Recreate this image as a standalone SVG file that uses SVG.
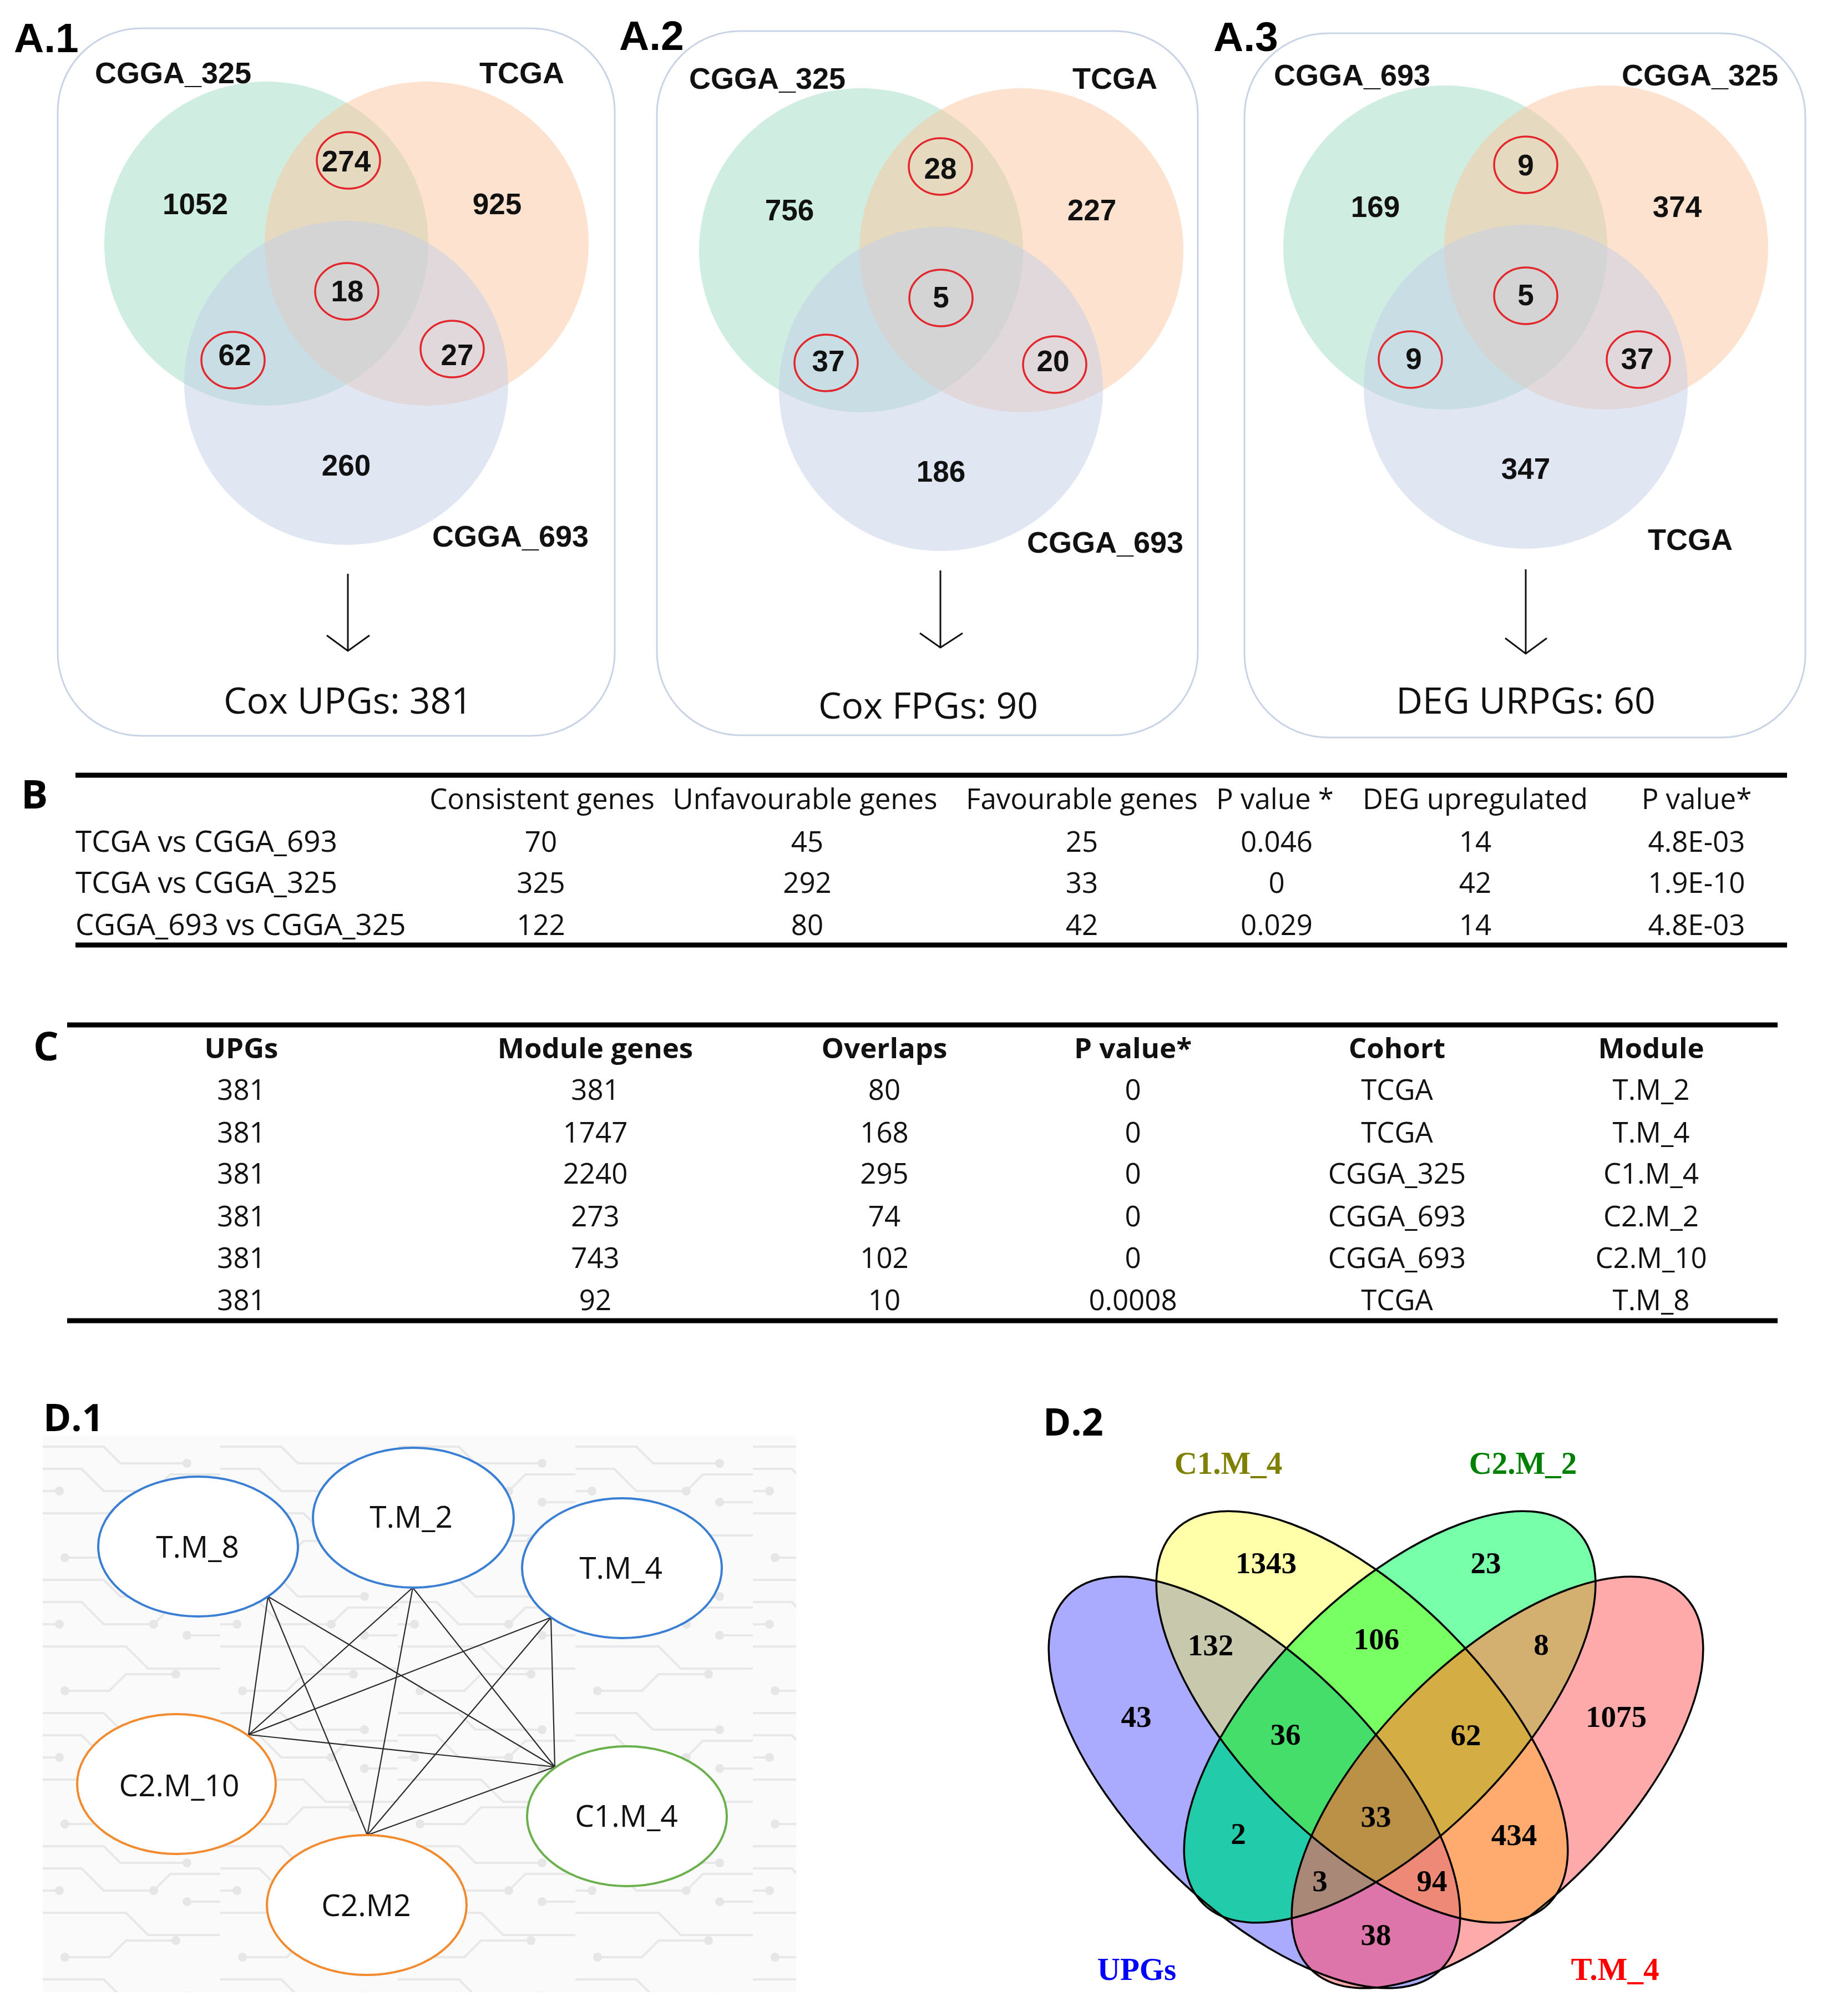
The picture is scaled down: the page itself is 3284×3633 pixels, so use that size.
<svg xmlns="http://www.w3.org/2000/svg" width="3284" height="3633" viewBox="0 0 3284 3633">
<style>
.plab{font-family:"Liberation Sans",Arial,sans-serif;font-weight:700;font-size:75px;fill:#000}
.slab{font-family:"Liberation Sans",Arial,sans-serif;font-weight:700;font-size:54px;fill:#111}
.num{font-family:"Liberation Sans",Arial,sans-serif;font-weight:700;font-size:53px;fill:#111;text-anchor:middle}
.res{font-family:"Open Sans",sans-serif;font-size:66px;fill:#111;text-anchor:middle}
.box{fill:none;stroke:#c9d3e6;stroke-width:3}
.cg{fill:#9fdcc4;fill-opacity:.5}
.co{fill:#fbc89f;fill-opacity:.5}
.cb{fill:#c3cee8;fill-opacity:.5}
.rc{fill:none;stroke:#e3262b;stroke-width:3.5}
.arr{fill:none;stroke:#111;stroke-width:3}
.tb{font-family:"Open Sans",sans-serif;font-size:51px;fill:#111}
.rl{font-size:53px}
.tc{text-anchor:middle}
.th{font-weight:700}
.rule{stroke:#000;stroke-width:9}
.big{font-family:"Open Sans",sans-serif;font-weight:700;font-size:72px;fill:#000}
.dl{font-family:"Open Sans",sans-serif;font-weight:700;font-size:68px;fill:#000}
.node ellipse{fill:#fff;stroke-width:4}
.nt{font-family:"Open Sans",sans-serif;font-size:55px;fill:#111;text-anchor:middle}
.edge line{stroke:#2a2a2a;stroke-width:2.2}
.vn{font-family:"Liberation Serif","Times New Roman",serif;font-weight:700;font-size:55px;fill:#000;text-anchor:middle}
.vl{font-family:"Liberation Serif","Times New Roman",serif;font-weight:700;font-size:57px;text-anchor:middle}
.vo{fill:none;stroke:#000;stroke-width:3.5}
</style>
<defs>
<pattern id="circ" x="77" y="2587" width="320" height="240" patternUnits="userSpaceOnUse">
<rect width="320" height="240" fill="#fafafa"/>
<g fill="none" stroke="#e8e8e8" stroke-width="4">
<path d="M0 20 H110 L140 50 H260"/>
<path d="M0 60 H70 L110 100 H200 L230 70 H320"/>
<path d="M0 140 H150 L190 180 H320"/>
<path d="M40 220 H120 L150 190 H240"/>
<path d="M260 120 H320"/>
<path d="M0 100 H30"/>
</g>
<g fill="#e6e6e6">
<circle cx="260" cy="50" r="8"/><circle cx="200" cy="100" r="8"/><circle cx="240" cy="190" r="8"/><circle cx="40" cy="220" r="8"/><circle cx="260" cy="120" r="8"/><circle cx="30" cy="100" r="8"/>
</g>
</pattern>
<ellipse id="eB" cx="2261" cy="3212" rx="476" ry="220" transform="rotate(45 2261 3212)"/>
<ellipse id="eY" cx="2455" cy="3094" rx="476" ry="220" transform="rotate(45 2455 3094)"/>
<ellipse id="eG" cx="2505" cy="3094" rx="476" ry="220" transform="rotate(-45 2505 3094)"/>
<ellipse id="eP" cx="2699" cy="3212" rx="476" ry="220" transform="rotate(-45 2699 3212)"/>
<clipPath id="cB"><ellipse cx="2261" cy="3212" rx="476" ry="220" transform="rotate(45 2261 3212)"/></clipPath>
<clipPath id="cY"><ellipse cx="2455" cy="3094" rx="476" ry="220" transform="rotate(45 2455 3094)"/></clipPath>
<clipPath id="cG"><ellipse cx="2505" cy="3094" rx="476" ry="220" transform="rotate(-45 2505 3094)"/></clipPath>
<clipPath id="cP"><ellipse cx="2699" cy="3212" rx="476" ry="220" transform="rotate(-45 2699 3212)"/></clipPath>
</defs>
<rect width="3284" height="3633" fill="#fff"/>

<!-- Panel A.1 -->
<g id="panelA1">
<rect class="box" x="104" y="51" width="1004" height="1275" rx="150"/>
<text class="plab" x="25" y="94">A.1</text>
<circle class="cg" cx="480" cy="439" r="292"/>
<circle class="co" cx="769" cy="439" r="292"/>
<circle class="cb" cx="624" cy="690" r="292"/>
<text class="slab" x="171" y="150">CGGA_325</text>
<text class="slab" x="864" y="150">TCGA</text>
<text class="slab" x="779" y="985">CGGA_693</text>
<ellipse class="rc" cx="628" cy="289" rx="57" ry="51"/>
<ellipse class="rc" cx="625" cy="525" rx="57" ry="51"/>
<ellipse class="rc" cx="420" cy="649" rx="57" ry="51"/>
<ellipse class="rc" cx="815" cy="629" rx="57" ry="51"/>
<text class="num" x="352" y="386">1052</text>
<text class="num" x="624" y="309">274</text>
<text class="num" x="896" y="386">925</text>
<text class="num" x="626" y="543">18</text>
<text class="num" x="423" y="658">62</text>
<text class="num" x="824" y="658">27</text>
<text class="num" x="624" y="857">260</text>
<path class="arr" d="M627 1034 V1173 M589 1145 L627 1173 L666 1145"/>
<text class="res" x="627" y="1286">Cox UPGs: 381</text>
</g>

<!-- Panel A.2 -->
<g id="panelA2">
<rect class="box" x="1184" y="56" width="975" height="1269" rx="150"/>
<text class="plab" x="1116" y="90">A.2</text>
<circle class="cg" cx="1552" cy="451" r="292"/>
<circle class="co" cx="1841" cy="451" r="292"/>
<circle class="cb" cx="1696" cy="701" r="292"/>
<text class="slab" x="1242" y="160">CGGA_325</text>
<text class="slab" x="1933" y="160">TCGA</text>
<text class="slab" x="1851" y="996">CGGA_693</text>
<ellipse class="rc" cx="1695" cy="300" rx="57" ry="51"/>
<ellipse class="rc" cx="1696" cy="537" rx="57" ry="51"/>
<ellipse class="rc" cx="1489" cy="654" rx="57" ry="51"/>
<ellipse class="rc" cx="1901" cy="657" rx="57" ry="51"/>
<text class="num" x="1423" y="397">756</text>
<text class="num" x="1695" y="322">28</text>
<text class="num" x="1968" y="397">227</text>
<text class="num" x="1696" y="554">5</text>
<text class="num" x="1493" y="669">37</text>
<text class="num" x="1898" y="669">20</text>
<text class="num" x="1696" y="868">186</text>
<path class="arr" d="M1695 1028 V1167 M1658 1141 L1695 1167 L1735 1141"/>
<text class="res" x="1673" y="1295">Cox FPGs: 90</text>
</g>

<!-- Panel A.3 -->
<g id="panelA3">
<rect class="box" x="2243" y="60" width="1011" height="1269" rx="150"/>
<text class="plab" x="2187" y="92">A.3</text>
<circle class="cg" cx="2605" cy="446" r="292"/>
<circle class="co" cx="2895" cy="446" r="292"/>
<circle class="cb" cx="2750" cy="697" r="292"/>
<text class="slab" x="2296" y="154">CGGA_693</text>
<text class="slab" x="2923" y="154">CGGA_325</text>
<text class="slab" x="2970" y="991">TCGA</text>
<ellipse class="rc" cx="2750" cy="297" rx="57" ry="51"/>
<ellipse class="rc" cx="2750" cy="533" rx="57" ry="51"/>
<ellipse class="rc" cx="2542" cy="648" rx="57" ry="51"/>
<ellipse class="rc" cx="2953" cy="648" rx="57" ry="51"/>
<text class="num" x="2479" y="391">169</text>
<text class="num" x="2750" y="316">9</text>
<text class="num" x="3023" y="391">374</text>
<text class="num" x="2750" y="550">5</text>
<text class="num" x="2548" y="665">9</text>
<text class="num" x="2951" y="665">37</text>
<text class="num" x="2750" y="863">347</text>
<path class="arr" d="M2750 1026 V1178 M2713 1150 L2750 1178 L2788 1150"/>
<text class="res" x="2750" y="1286">DEG URPGs: 60</text>
</g>

<!-- Table B -->
<g id="tableB">
<text class="big" x="38" y="1457">B</text>
<line class="rule" x1="136" y1="1397" x2="3221" y2="1397"/>
<line class="rule" x1="136" y1="1703" x2="3221" y2="1703"/>
<g class="tb tc">
<text x="977" y="1458">Consistent genes</text>
<text x="1451" y="1458">Unfavourable genes</text>
<text x="1950" y="1458">Favourable genes</text>
<text x="2298" y="1458">P value *</text>
<text x="2659" y="1458">DEG upregulated</text>
<text x="3058" y="1458">P value*</text>
<text x="975" y="1535">70</text><text x="1455" y="1535">45</text><text x="1950" y="1535">25</text><text x="2301" y="1535">0.046</text><text x="2659" y="1535">14</text><text x="3058" y="1535">4.8E-03</text>
<text x="975" y="1609">325</text><text x="1455" y="1609">292</text><text x="1950" y="1609">33</text><text x="2301" y="1609">0</text><text x="2659" y="1609">42</text><text x="3058" y="1609">1.9E-10</text>
<text x="975" y="1685">122</text><text x="1455" y="1685">80</text><text x="1950" y="1685">42</text><text x="2301" y="1685">0.029</text><text x="2659" y="1685">14</text><text x="3058" y="1685">4.8E-03</text>
</g>
<g class="tb rl">
<text x="136" y="1535">TCGA vs CGGA_693</text>
<text x="136" y="1609">TCGA vs CGGA_325</text>
<text x="136" y="1685">CGGA_693 vs CGGA_325</text>
</g>
</g>

<!-- Table C -->
<g id="tableC">
<text class="big" x="60" y="1911">C</text>
<line class="rule" x1="121" y1="1847" x2="3204" y2="1847"/>
<line class="rule" x1="121" y1="2380" x2="3204" y2="2380"/>
<g class="tb tc th">
<text x="435" y="1907">UPGs</text>
<text x="1073" y="1907">Module genes</text>
<text x="1594" y="1907">Overlaps</text>
<text x="2042" y="1907">P value*</text>
<text x="2518" y="1907">Cohort</text>
<text x="2976" y="1907">Module</text>
</g>
<g class="tb tc">
<text x="435" y="1982">381</text><text x="1073" y="1982">381</text><text x="1594" y="1982">80</text><text x="2042" y="1982">0</text><text x="2518" y="1982">TCGA</text><text x="2976" y="1982">T.M_2</text>
<text x="435" y="2059">381</text><text x="1073" y="2059">1747</text><text x="1594" y="2059">168</text><text x="2042" y="2059">0</text><text x="2518" y="2059">TCGA</text><text x="2976" y="2059">T.M_4</text>
<text x="435" y="2133">381</text><text x="1073" y="2133">2240</text><text x="1594" y="2133">295</text><text x="2042" y="2133">0</text><text x="2518" y="2133">CGGA_325</text><text x="2976" y="2133">C1.M_4</text>
<text x="435" y="2210">381</text><text x="1073" y="2210">273</text><text x="1594" y="2210">74</text><text x="2042" y="2210">0</text><text x="2518" y="2210">CGGA_693</text><text x="2976" y="2210">C2.M_2</text>
<text x="435" y="2285">381</text><text x="1073" y="2285">743</text><text x="1594" y="2285">102</text><text x="2042" y="2285">0</text><text x="2518" y="2285">CGGA_693</text><text x="2976" y="2285">C2.M_10</text>
<text x="435" y="2361">381</text><text x="1073" y="2361">92</text><text x="1594" y="2361">10</text><text x="2042" y="2361">0.0008</text><text x="2518" y="2361">TCGA</text><text x="2976" y="2361">T.M_8</text>
</g>
</g>

<!-- Panel D.1 -->
<g id="panelD1">
<text class="dl" x="78" y="2579">D.1</text>
<rect x="77" y="2587" width="1358" height="1003" fill="url(#circ)"/>
<g id="connectors" class="edge">
<line x1="483" y1="2877" x2="448" y2="3126"/>
<line x1="483" y1="2877" x2="662" y2="3307"/>
<line x1="483" y1="2877" x2="1000" y2="3184"/>
<line x1="744" y1="2861" x2="448" y2="3126"/>
<line x1="744" y1="2861" x2="662" y2="3307"/>
<line x1="744" y1="2861" x2="1000" y2="3184"/>
<line x1="993" y1="2915" x2="448" y2="3126"/>
<line x1="993" y1="2915" x2="662" y2="3307"/>
<line x1="993" y1="2915" x2="1000" y2="3184"/>
<line x1="448" y1="3126" x2="1000" y2="3184"/>
<line x1="662" y1="3307" x2="1000" y2="3184"/>
</g>
<g id="node-TM8" class="node"><ellipse cx="357" cy="2787" rx="180" ry="126" stroke="#3b7fd4"/><text class="nt" x="356" y="2807">T.M_8</text></g>
<g id="node-TM2" class="node"><ellipse cx="745" cy="2735" rx="181" ry="126" stroke="#3b7fd4"/><text class="nt" x="741" y="2753">T.M_2</text></g>
<g id="node-TM4" class="node"><ellipse cx="1121" cy="2826" rx="180" ry="126" stroke="#3b7fd4"/><text class="nt" x="1119" y="2845">T.M_4</text></g>
<g id="node-C2M10" class="node"><ellipse cx="318" cy="3215" rx="179" ry="126" stroke="#f28a30"/><text class="nt" x="323" y="3237">C2.M_10</text></g>
<g id="node-C2M2" class="node"><ellipse cx="661" cy="3433" rx="180" ry="126" stroke="#f28a30"/><text class="nt" x="660" y="3453">C2.M2</text></g>
<g id="node-C1M4" class="node"><ellipse cx="1130" cy="3273" rx="180" ry="126" stroke="#6ab04c"/><text class="nt" x="1129" y="3292">C1.M_4</text></g>
</g>

<!-- Panel D.2 -->
<g id="panelD2">
<text class="dl" x="1880" y="2587">D.2</text>
<use href="#eB" fill="#aaaaff"/>
<use href="#eY" fill="#ffffaa"/>
<use href="#eG" fill="#77ffaa"/>
<use href="#eP" fill="#ffaaaa"/>
<g clip-path="url(#cB)"><use href="#eY" fill="#c8c8ac"/></g>
<g clip-path="url(#cY)"><use href="#eG" fill="#78ff64"/></g>
<g clip-path="url(#cG)"><use href="#eP" fill="#d4b070"/></g>
<g clip-path="url(#cB)"><use href="#eP" fill="#dd75aa"/></g>
<g clip-path="url(#cB)"><use href="#eG" fill="#22ccaa"/></g>
<g clip-path="url(#cY)"><use href="#eP" fill="#ffaa6e"/></g>
<g clip-path="url(#cB)"><g clip-path="url(#cY)"><use href="#eG" fill="#46de6a"/></g></g>
<g clip-path="url(#cY)"><g clip-path="url(#cG)"><use href="#eP" fill="#d4ae44"/></g></g>
<g clip-path="url(#cB)"><g clip-path="url(#cY)"><use href="#eP" fill="#ee8877"/></g></g>
<g clip-path="url(#cB)"><g clip-path="url(#cG)"><use href="#eP" fill="#aa8877"/></g></g>
<g clip-path="url(#cB)"><g clip-path="url(#cY)"><g clip-path="url(#cG)"><use href="#eP" fill="#bb9148"/></g></g></g>
<use href="#eB" class="vo"/>
<use href="#eY" class="vo"/>
<use href="#eG" class="vo"/>
<use href="#eP" class="vo"/>
<text class="vn" x="2282" y="2835">1343</text>
<text class="vn" x="2678" y="2835">23</text>
<text class="vn" x="2182" y="2983">132</text>
<text class="vn" x="2481" y="2972">106</text>
<text class="vn" x="2778" y="2982">8</text>
<text class="vn" x="2048" y="3112">43</text>
<text class="vn" x="2317" y="3144">36</text>
<text class="vn" x="2642" y="3145">62</text>
<text class="vn" x="2913" y="3112">1075</text>
<text class="vn" x="2232" y="3323">2</text>
<text class="vn" x="2480" y="3292">33</text>
<text class="vn" x="2729" y="3325">434</text>
<text class="vn" x="2379" y="3408">3</text>
<text class="vn" x="2581" y="3408">94</text>
<text class="vn" x="2480" y="3505">38</text>
<text class="vl" x="2214" y="2656" fill="#808000">C1.M_4</text>
<text class="vl" x="2745" y="2656" fill="#008000">C2.M_2</text>
<text class="vl" x="2049" y="3568" fill="#0000ff">UPGs</text>
<text class="vl" x="2911" y="3568" fill="#ff0000">T.M_4</text>
</g>
</svg>
